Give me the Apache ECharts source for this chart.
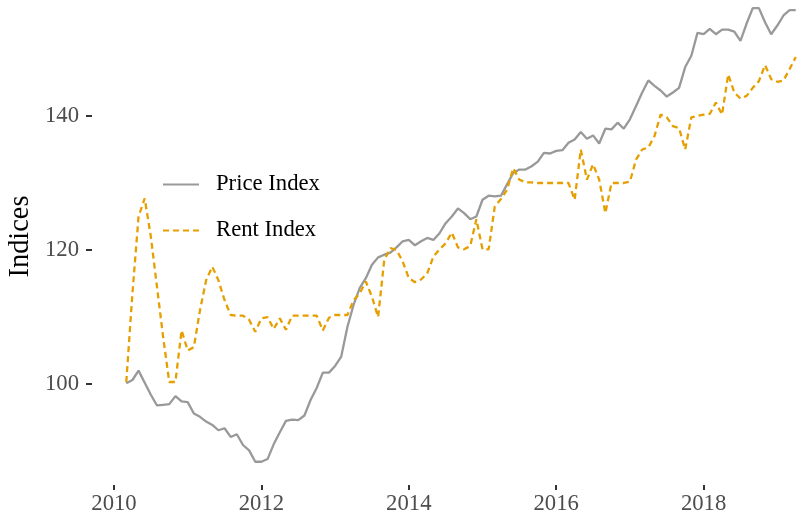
<!DOCTYPE html>
<html>
<head>
<meta charset="utf-8">
<script src="https://cdn.jsdelivr.net/npm/echarts@6/dist/echarts.min.js"></script>
<style>
    html, body { margin: 0; padding: 0; background: #fff; }
    #chart { width: 797px; height: 516px; }
</style>
</head>
<body>
<div id="chart"></div>
<script>
// monthly, Mar 2010 .. Apr 2019
const startYear = 2010
const startMonth = 3
const priceIndex = [
    100.1, 100.6, 102.0, 100.2, 98.4, 96.8, 96.9, 97.0, 98.2, 97.4,
    97.3, 95.6, 95.1, 94.4, 93.9, 93.1, 93.4, 92.1, 92.5, 90.9,
    90.1, 88.4, 88.4, 88.8, 91.0, 92.8, 94.5, 94.7, 94.6, 95.3,
    97.6, 99.4, 101.7, 101.7, 102.7, 104.1, 108.5, 111.8, 114.3, 115.8,
    117.8, 118.9, 119.3, 119.6, 120.4, 121.3, 121.5, 120.7, 121.3, 121.8,
    121.5, 122.5, 124.0, 125.0, 126.2, 125.5, 124.6, 125.0, 127.5, 128.1,
    128.0, 128.1, 129.8, 131.5, 132.0, 132.0, 132.5, 133.2, 134.5, 134.4,
    134.8, 134.9, 136.0, 136.5, 137.6, 136.6, 137.1, 135.9, 138.1, 138.0,
    139.0, 138.1, 139.5, 141.5, 143.5, 145.3, 144.5, 143.8, 142.9, 143.5,
    144.2, 147.3, 149.0, 152.4, 152.2, 153.0, 152.2, 152.9, 152.9, 152.6,
    151.2, 153.8, 156.1, 156.1, 154.0, 152.2, 153.5, 155.0, 155.8, 155.8
]
const rentIndex = [
    100.3, 113.5, 125.0, 127.7, 122.0, 114.5, 107.0, 100.3, 100.3, 108.0,
    105.0, 105.5, 111.0, 115.5, 117.5, 115.5, 112.5, 110.3, 110.2, 110.2,
    109.6, 107.8, 109.8, 110.0, 108.2, 109.8, 108.1, 110.2, 110.2, 110.2,
    110.2, 110.2, 108.0, 109.9, 110.3, 110.3, 110.3, 112.5, 113.5, 115.3,
    113.0, 110.0, 118.5, 120.3, 120.0, 118.3, 115.8, 115.2, 115.6, 116.5,
    119.0, 120.1, 121.0, 122.6, 120.4, 120.1, 120.6, 124.6, 120.1, 120.1,
    126.5, 127.6, 129.0, 132.2, 130.5, 130.1, 130.1, 130.0, 130.0, 130.0,
    130.0, 130.0, 130.0, 127.5, 135.0, 130.5, 132.8, 130.5, 125.5, 130.0,
    130.0, 130.0, 130.2, 133.5, 135.0, 135.3, 137.0, 140.2, 139.8, 138.5,
    138.2, 135.0, 139.8, 140.0, 140.2, 140.3, 142.0, 140.2, 146.2, 143.5,
    142.6, 143.0, 144.2, 145.2, 147.6, 145.5, 145.1, 145.3, 147.0, 148.8
]
const xTicks = [2010, 2012, 2014, 2016, 2018]
const yTicks = [100, 120, 140]

// decimal year for each month
const time = priceIndex.map((_, i) => startYear + (startMonth - 1 + i) / 12)

const font = 'Liberation Serif, Times New Roman, serif'
const mychart = echarts.init(document.getElementById('chart'))
mychart.setOption({
    animation: false,
    backgroundColor: '#fff',
    grid: {
        left: 92,
        right: 0,
        top: 0,
        bottom: 31,
        outerBoundsMode: 'none'
    },
    legend: {
        orient: 'vertical',
        left: 157,
        top: 167,
        itemWidth: 36,
        itemHeight: 14,
        itemGap: 21,
        // hide the dot drawn in the middle of line icons
        itemStyle: { opacity: 0 },
        textStyle: {
            fontFamily: font,
            fontSize: 22.7,
            color: '#000',
            lineHeight: 25,
            padding: [0, 0, 0, 12]
        },
        data: ['Price Index', 'Rent Index']
    },
    xAxis: {
        type: 'value',
        min: 2009.7015,
        max: 2019.267,
        axisLine: { show: false },
        splitLine: { show: false },
        axisTick: {
            show: true,
            customValues: xTicks,
            length: 5,
            lineStyle: { color: '#333', width: 2 }
        },
        axisLabel: {
            customValues: xTicks,
            margin: 8,
            fontFamily: font,
            fontSize: 22.7,
            color: '#4d4d4d',
            formatter: (v) => String(Math.round(v))
        }
    },
    yAxis: {
        type: 'value',
        min: 84.93,
        max: 157.31,
        name: 'Indices',
        nameLocation: 'middle',
        nameRotate: 90,
        nameGap: 57,
        nameTextStyle: {
            fontFamily: font,
            fontSize: 28.4,
            color: '#000',
            padding: [0, 0, 0, 12]
        },
        axisLine: { show: false },
        splitLine: { show: false },
        axisTick: {
            show: true,
            customValues: yTicks,
            length: 6,
            lineStyle: { color: '#333', width: 2 }
        },
        axisLabel: {
            customValues: yTicks,
            margin: 13,
            fontFamily: font,
            fontSize: 22.7,
            color: '#4d4d4d'
        }
    },
    series: [
        {
            name: 'Price Index',
            type: 'line',
            symbol: 'none',
            data: time.map((t, i) => [t, priceIndex[i]]),
            lineStyle: { color: '#999999', width: 2.3 },
            itemStyle: { color: '#999999' }
        },
        {
            name: 'Rent Index',
            type: 'line',
            symbol: 'none',
            data: time.map((t, i) => [t, rentIndex[i]]),
            lineStyle: { color: '#E69F00', width: 2.3, type: [6, 4] },
            itemStyle: { color: '#E69F00' }
        }
    ]
})
</script>
</body>
</html>
